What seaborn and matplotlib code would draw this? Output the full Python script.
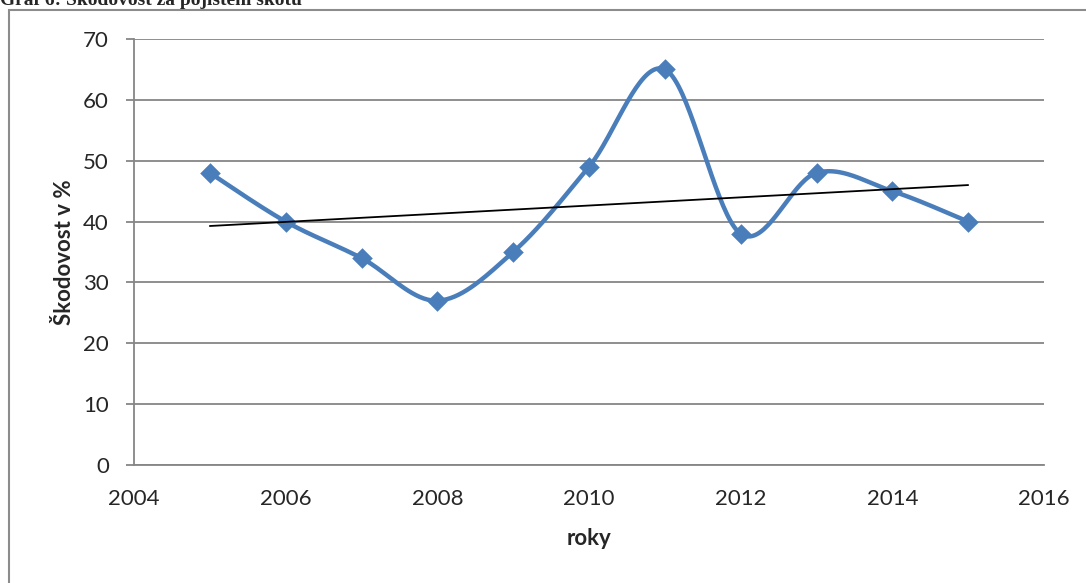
import numpy as np
import pandas as pd
import seaborn as sns
import matplotlib.pyplot as plt
from matplotlib.patches import Rectangle

# data
years = [2005, 2006, 2007, 2008, 2009, 2010, 2011, 2012, 2013, 2014, 2015]
skodovost = [48, 40, 34, 27, 35, 49, 65, 38, 48, 45, 40]
x_ticks = [2004, 2006, 2008, 2010, 2012, 2014, 2016]
y_ticks = [0, 10, 20, 30, 40, 50, 60, 70]

df = pd.DataFrame({'rok': years, 'skodovost': skodovost})


# Excel-style smoothed line (Catmull-Rom bezier through the points)
def smooth_line(x, y, steps=40):
    pts = np.column_stack([x, y]).astype(float)
    pts = np.vstack([pts[0], pts, pts[-1]])
    out = []
    for i in range(1, len(pts) - 2):
        p0, p1, p2, p3 = pts[i - 1], pts[i], pts[i + 1], pts[i + 2]
        c1 = p1 + (p2 - p0) / 6
        c2 = p2 - (p3 - p1) / 6
        t = np.linspace(0, 1, steps)[:, None]
        seg = (1 - t) ** 3 * p1 + 3 * (1 - t) ** 2 * t * c1 + 3 * (1 - t) * t ** 2 * c2 + t ** 3 * p2
        out.append(seg)
    out = np.vstack(out)
    return out[:, 0], out[:, 1]


sns.set_style("white")
plt.rcParams['font.family'] = ['Lato', 'DejaVu Sans']

blue = '#4a7ebb'
grid = '#868686'
fs = 16

fig = plt.figure(figsize=(10.86, 5.83), dpi=100)
ax = fig.add_axes([134 / 1086, 1 - 465 / 583, 910 / 1086, 426 / 583])

sx, sy = smooth_line(df['rok'], df['skodovost'])
ax.plot(sx, sy, color=blue, lw=3.2, zorder=3, solid_capstyle='round')
sns.scatterplot(data=df, x='rok', y='skodovost', marker='D', s=110, color=blue,
                edgecolor=blue, linewidth=0, ax=ax, zorder=4)

# linear trend
sns.regplot(data=df, x='rok', y='skodovost', scatter=False, ci=None, truncate=True,
            color='black', line_kws={'lw': 1.3, 'zorder': 5}, ax=ax)

ax.set_xlim(2004, 2016)
ax.set_ylim(0, 70)
ax.set_xticks(x_ticks)
ax.set_yticks(y_ticks)
ax.yaxis.grid(True, color=grid, lw=1.3)
ax.set_axisbelow(True)
for s in ['top', 'right']:
    ax.spines[s].set_visible(False)
for s in ['left', 'bottom']:
    ax.spines[s].set_color(grid)
    ax.spines[s].set_linewidth(1.3)

ax.tick_params(axis='y', length=6, color=grid, width=1.3, labelsize=fs, pad=12, left=True)
ax.tick_params(axis='x', length=0, labelsize=fs, pad=17)
ax.set_xlabel('roky', fontsize=fs, fontweight='bold', labelpad=14)
ax.set_ylabel('Škodovost v %', fontsize=fs, fontweight='bold', labelpad=6)

# chart frame and cut-off caption above it
fig.patches.append(Rectangle((9 / 1086, -0.1), 1.2, 1 - 10 / 583 + 0.1, transform=fig.transFigure,
                             fill=False, edgecolor='#8c8c8c', lw=1.5))
fig.text(0.0, 1 - 5 / 583, 'Graf 6: Škodovost za pojištění skotu', fontsize=14, fontweight='bold',
         family=['Liberation Serif'], va='baseline', ha='left')

fig.savefig('out.png', dpi=100)
